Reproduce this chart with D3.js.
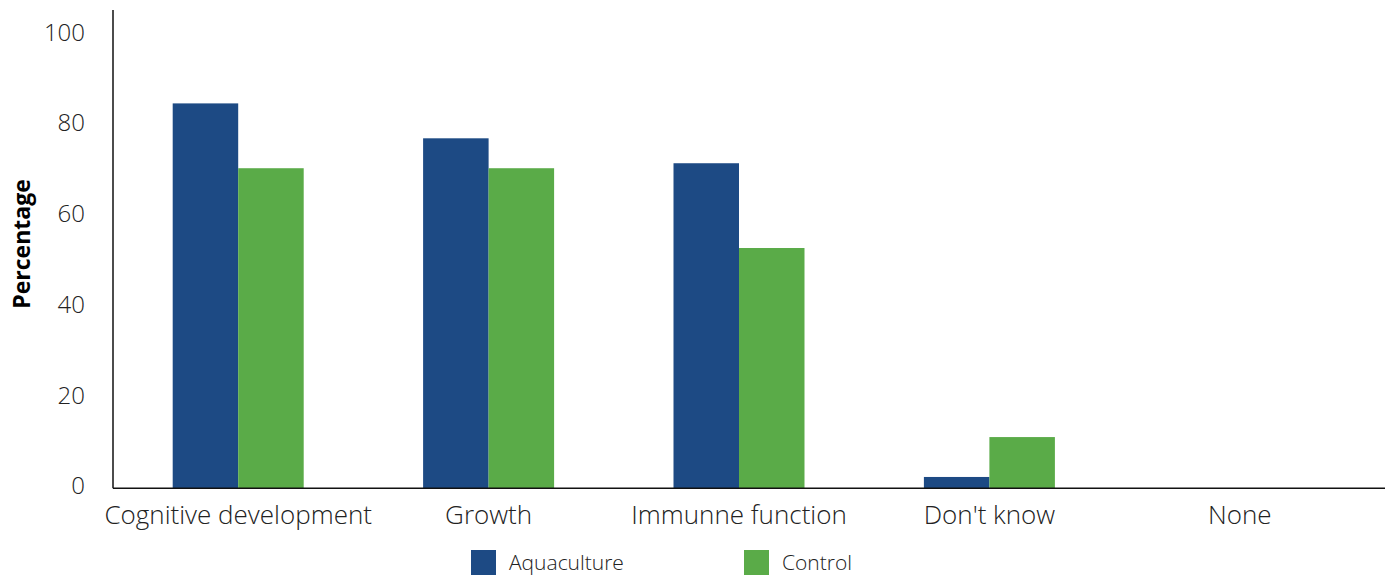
<!DOCTYPE html>
<html>
<head>
<meta charset="utf-8">
<script src="https://cdn.jsdelivr.net/npm/d3@7"></script>
<style>
  html, body { margin: 0; padding: 0; background: #fff; }
  svg text { font-family: "Open Sans", "Noto Sans", sans-serif; fill: #222; }
</style>
</head>
<body>
<svg id="chart" width="1391" height="578"></svg>
<script>
// Knowledge of nutrition benefits, by group (percentage of respondents)
const categories = ["Cognitive development", "Growth", "Immunne function", "Don't know", "None"];
const seriesNames = ["Aquaculture", "Control"];
const aquaculture = [84.9, 77.2, 71.7, 2.5, 0];
const control = [70.6, 70.6, 53.0, 11.3, 0];
const yTicks = [0, 20, 40, 60, 80, 100];
const colors = ["#1d4a84", "#5aab48"];

const svg = d3.select("#chart");
const margin = { left: 113, top: 10, bottom: 488.3 };
const axisRight = 1385;

const x0 = d3.scaleBand().domain(categories).range([113, 1365]).paddingInner(0).paddingOuter(0);
const groupWidth = 131;
const x1 = d3.scaleBand().domain(seriesNames).range([0, groupWidth]).padding(0);
const y = d3.scaleLinear().domain([0, 105.5]).range([margin.bottom, margin.top]);

const rows = categories.map((c, i) => ({ category: c, values: [aquaculture[i], control[i]] }));

// Bars
const groups = svg.append("g").selectAll("g").data(rows).join("g")
  .attr("transform", d => `translate(${x0(d.category) + x0.bandwidth() / 2 - groupWidth / 2},0)`);
groups.selectAll("rect").data(d => d.values.map((v, j) => ({ key: seriesNames[j], value: v, j })))
  .join("rect")
  .attr("x", d => x1(d.key))
  .attr("width", x1.bandwidth())
  .attr("y", d => y(d.value))
  .attr("height", d => y(0) - y(d.value))
  .attr("fill", d => colors[d.j]);

// Y axis: labels only, with a plain vertical line
const yAxis = d3.axisLeft(y).tickValues(yTicks).tickSize(0).tickPadding(28);
const gy = svg.append("g").attr("transform", `translate(${margin.left},0)`).call(yAxis);
gy.select(".domain").remove();
gy.selectAll("text").attr("font-size", 24).attr("font-weight", 300)
  .attr("dy", "0.32em").attr("y", -2.3)
  .style("font-family", "'Open Sans', sans-serif");
svg.append("line").attr("x1", margin.left).attr("x2", margin.left)
  .attr("y1", margin.top).attr("y2", margin.bottom)
  .attr("stroke", "#111").attr("stroke-width", 1.5);

// X axis: category labels and baseline
const xAxis = d3.axisBottom(x0).tickSize(0).tickPadding(17);
const gx = svg.append("g").attr("transform", `translate(0,${margin.bottom})`).call(xAxis);
gx.select(".domain").remove();
gx.selectAll("text").attr("font-size", 26).attr("font-weight", 300)
  .style("font-family", "'Open Sans', sans-serif");
svg.append("line").attr("x1", margin.left).attr("x2", axisRight)
  .attr("y1", margin.bottom).attr("y2", margin.bottom)
  .attr("stroke", "#111").attr("stroke-width", 1.5);

// Y axis title
svg.append("text")
  .attr("transform", `translate(30,244) rotate(-90)`)
  .attr("text-anchor", "middle")
  .attr("font-size", 23).attr("font-weight", 700)
  .style("fill", "#000")
  .text("Percentage");

// Legend
const legendX = [471, 744];
const legend = svg.append("g").selectAll("g").data(seriesNames).join("g")
  .attr("transform", (d, i) => `translate(${legendX[i]},550)`);
legend.append("rect").attr("width", 25).attr("height", 25).attr("fill", (d, i) => colors[i]);
legend.append("text").attr("x", 38).attr("y", 12.5).attr("dy", "0.35em")
  .attr("font-size", 21).attr("font-weight", 300).text(d => d);
</script>
</body>
</html>
